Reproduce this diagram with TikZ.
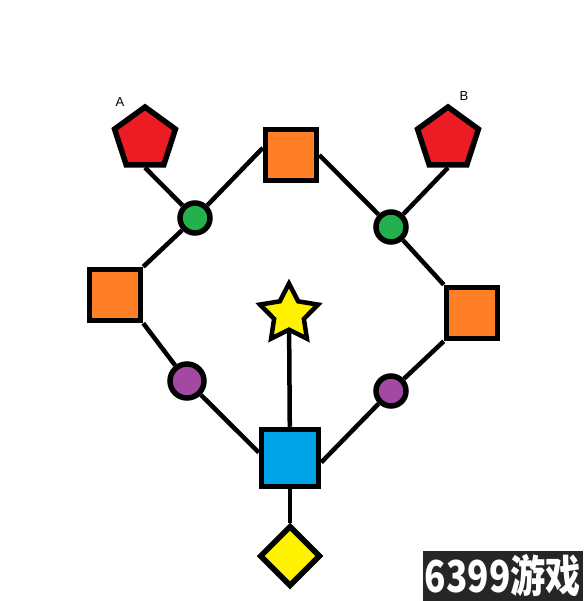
\documentclass[tikz,border=0pt]{standalone}
\usepackage{fontspec}
\setmainfont{Liberation Sans}
\newfontfamily\cjk{Noto Sans CJK SC}
\usetikzlibrary{shapes.geometric}
\definecolor{pentred}{HTML}{ED1C24}
\definecolor{boxorange}{HTML}{FF7F27}
\definecolor{dotgreen}{HTML}{22B14C}
\definecolor{dotpurple}{HTML}{A349A4}
\definecolor{boxblue}{HTML}{00A2E8}
\definecolor{gemyellow}{HTML}{FFF200}
\tikzset{
  piece/.style={draw=black,line width=5.5pt,inner sep=0pt},
  sqr/.style={piece,rectangle,minimum size=51pt},
  dot/.style={piece,circle,minimum size=30pt},
  pent/.style={piece,regular polygon,regular polygon sides=5,minimum size=64pt,fill=pentred},
  link/.style={line width=4.5pt}
}
\begin{document}
\begin{tikzpicture}[x=1pt,y=-1pt]
\useasboundingbox (0,0) rectangle (583,601);
\draw (145,139) node[pent](pa) {};
\draw (448,139) node[pent](pb) {};
\draw (291,155) node[sqr,fill=boxorange](top) {};
\draw (115,295) node[sqr,fill=boxorange](left) {};
\draw (472,313) node[sqr,fill=boxorange](right) {};
\draw (290,458) node[sqr,minimum size=57pt,fill=boxblue](blue) {};
\draw (195,218) node[dot,fill=dotgreen](gl) {};
\draw (391,227) node[dot,fill=dotgreen](gr) {};
\draw (187,381) node[dot,minimum size=34pt,fill=dotpurple](pl) {};
\draw (391,391) node[dot,fill=dotpurple](pr) {};
\draw (289,314) node[piece,star,star points=5,star point ratio=1.95,minimum size=61pt,line width=4.5pt,fill=gemyellow](star) {};
\draw (290,556) node[piece,diamond,aspect=1,minimum size=61pt,fill=gemyellow](gem) {};
\draw (120,102) node[font=\fontsize{13}{15}\selectfont](la) {A};
\draw (464,96) node[font=\fontsize{13}{15}\selectfont](lb) {B};
\draw[link] (pa.side 3) -- (gl);
\draw[link] (gl) -- (top.166);
\draw[link] (gl) -- (left.north east);
\draw[link] (left.south east) -- (pl);
\draw[link] (pl) -- (blue.170);
\draw[link] (blue.-8) -- (pr);
\draw[link] (pr) -- (right.south west);
\draw[link] (right.north west) -- (gr);
\draw[link] (gr) -- (top.east);
\draw[link] (gr) -- (pb.side 3);
\draw[link] (blue) -- (star);
\draw[link] (blue) -- (gem);
% watermark
\fill[black!85] (423,551) rectangle (583,601);
\draw (503,576) node[text=white,xscale=0.8,font=\cjk\bfseries\fontsize{44}{48}\selectfont](mark) {6399游戏};
\end{tikzpicture}
\end{document}
